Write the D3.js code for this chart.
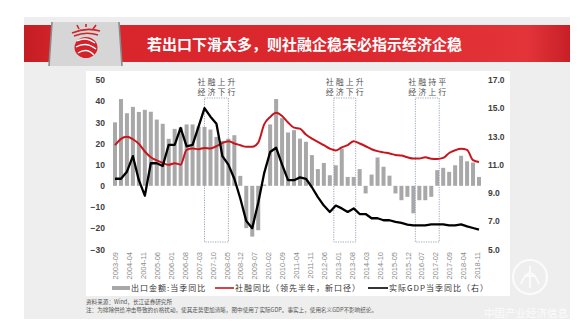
<!DOCTYPE html>
<html><head><meta charset="utf-8">
<script src="https://cdn.jsdelivr.net/npm/d3@7"></script>
<style>
body{margin:0;background:#fff;}
svg{display:block;font-family:"Noto Sans CJK SC","Liberation Sans",sans-serif;}
</style></head><body>
<svg id="c" width="581" height="332"></svg>
<script>
// ---------- DATA ----------
const quarters = [
 "2003Q3","2003Q4",
 "2004Q1","2004Q2","2004Q3","2004Q4","2005Q1","2005Q2","2005Q3","2005Q4",
 "2006Q1","2006Q2","2006Q3","2006Q4","2007Q1","2007Q2","2007Q3","2007Q4",
 "2008Q1","2008Q2","2008Q3","2008Q4","2009Q1","2009Q2","2009Q3","2009Q4",
 "2010Q1","2010Q2","2010Q3","2010Q4","2011Q1","2011Q2","2011Q3","2011Q4",
 "2012Q1","2012Q2","2012Q3","2012Q4","2013Q1","2013Q2","2013Q3","2013Q4",
 "2014Q1","2014Q2","2014Q3","2014Q4","2015Q1","2015Q2","2015Q3","2015Q4",
 "2016Q1","2016Q2","2016Q3","2016Q4","2017Q1","2017Q2","2017Q3","2017Q4",
 "2018Q1","2018Q2","2018Q3","2018Q4"];
// 出口金额:当季同比 (left axis, %)
const exportYoY = [
 30.0, 41.0, 34.3, 37.3, 34.9, 35.9, 35.0, 31.3, 29.3, 22.2,
 26.9, 27.6, 29.0, 29.0, 28.0, 27.8, 26.6, 23.1, 21.2, 22.3,
 23.9, 4.7, -20.0, -24.0, -21.0, 0.6, 29.0, 41.0, 32.0, 25.2,
 26.3, 22.3, 20.8, 14.5, 7.9, 10.8, 5.0, 9.7, 17.6, 4.2,
 4.2, 7.9, -3.6, 5.3, 13.4, 9.0, 4.8, -3.6, -6.8, -5.2,
 -13.0, -6.8, -6.8, -5.2, 7.4, 8.5, 6.6, 9.7, 14.2, 11.6,
 11.0, 4.2];
// 社融同比（领先半年，新口径） (left axis, %)
const tsfYoY = [
 19.2, 22.2, 23.2, 22.0, 19.8, 16.2, 13.5, 12.0, 10.8, 9.9,
 10.7, 10.0, 17.0, 17.6, 17.3, 17.9, 17.6, 18.7, 20.3, 21.1,
 20.0, 19.2, 18.4, 18.4, 20.4, 29.0, 32.5, 34.5, 33.0, 29.9,
 27.5, 27.0, 24.2, 22.3, 20.8, 19.2, 17.6, 16.7, 18.2, 19.2,
 21.1, 20.0, 18.7, 17.3, 16.4, 15.8, 15.3, 14.6, 14.3, 13.5,
 12.9, 12.9, 13.5, 12.8, 12.7, 13.2, 15.5, 16.8, 17.5, 17.0,
 12.1, 11.2];
// 实际GDP当季同比（右） (right axis, %)
const gdpYoY = [
 10.0, 10.0, 10.5, 11.6, 9.9, 8.8, 11.1, 11.1, 10.9, 12.4,
 12.4, 13.6, 12.3, 12.4, 13.7, 15.0, 14.4, 13.9, 11.6, 11.0,
 10.0, 8.6, 7.0, 6.5, 8.3, 10.4, 11.9, 12.2, 11.0, 9.9,
 9.9, 10.1, 10.0, 9.4, 8.7, 8.1, 7.65, 8.1, 7.9, 7.65,
 7.9, 7.5, 7.5, 7.2, 7.2, 7.06, 7.06, 6.94, 6.87, 6.75,
 6.7, 6.7, 6.7, 6.77, 6.77, 6.77, 6.7, 6.7, 6.77, 6.63,
 6.51, 6.4];
const tickLabels = ["2003-09","2004-04","2004-11","2005-06","2006-01","2006-08","2007-03",
 "2007-10","2008-05","2008-12","2009-07","2010-02","2010-09","2011-04","2011-11","2012-06",
 "2013-01","2013-08","2014-03","2014-10","2015-05","2015-12","2016-07","2017-02","2017-09",
 "2018-04","2018-11"];
const leftTicks = [-30,-20,-10,0,10,20,30,40,50];
const rightTicks = [5,7,9,11,13,15,17];
const boxStarts = ["2007-06","2012-11","2016-04"];
const boxEnds = ["2008-06","2013-10","2017-04"];
const boxLine1 = ["社融上升","社融上升","社融持平"];
const boxLine2 = ["经济下行","经济下行","经济上行"];
const title = "若出口下滑太多，则社融企稳未必指示经济企稳";
const legendNames = ["出口金额:当季同比","社融同比（领先半年，新口径）","实际GDP当季同比（右）"];
const source = "资料来源：Wind，长江证券研究所";
const note = "注：为排除供给冲击导致的价格扰动，使其走势更加清晰，图中使用了实际GDP。事实上，使用名义GDP不影响结论。";

// ---------- HELPERS ----------
const monthIndex = s => { const [y,m] = s.split("-").map(Number); return (y-2003)*12 + (m-9); };
const quarterMonth = q => (+q.slice(0,4)-2003)*12 + (+q.slice(5))*3 - 9;

const svg = d3.select("#c");
const defs = svg.append("defs");
const grad = defs.append("linearGradient").attr("id","band").attr("x1","0").attr("x2","1");
[["0","#c41d24"],["0.08","#d8252c"],["0.6","#dc282e"],["0.92","#e3343a"],["1","#c81f26"]]
  .forEach(([o,c]) => grad.append("stop").attr("offset",o).attr("stop-color",c));

// slide background
svg.append("rect").attr("x",24).attr("y",17).attr("width",546).attr("height",302).attr("fill","#eeeeee");
// title band
svg.append("rect").attr("x",24).attr("y",25).attr("width",546).attr("height",37).attr("fill","url(#band)");
// logo box
svg.append("path").attr("d","M52,22 L119,22 L122,66 L49,66 Z").attr("fill","#d6d6d6");
svg.append("path").attr("d","M52,22 L49,66 M119,22 L122,66").attr("stroke","#8a8a8a").attr("stroke-width",1.6);
// logo mark
const lg = svg.append("g");
lg.append("ellipse").attr("cx",86).attr("cy",47.5).attr("rx",11.5).attr("ry",10.5).attr("fill","#d3222a");
lg.append("path").attr("d","M77,41 Q86,36 95,43 M76,47 Q86,41 96,49 M78,53 Q87,47 94,55")
  .attr("stroke","#fff").attr("stroke-width",1.4).attr("fill","none");
lg.append("path").attr("d","M72,33 Q86,27 100,31 M74,36 Q86,31 98,35 M79,29 L77,25 M93,29 L96,25 M86,27 L86,24")
  .attr("stroke","#d3222a").attr("stroke-width",1.6).attr("fill","none");
// title text
svg.append("text").attr("x",147).attr("y",49.5).attr("fill","#fff").attr("font-size",15)
  .attr("font-weight",700).text(title);

// chart panel
svg.append("rect").attr("x",86).attr("y",71).attr("width",424).attr("height",225).attr("fill","#ffffff");

// ---------- SCALES ----------
const x = d3.scaleLinear().domain([0,183]).range([115,479]);
const yL = d3.scaleLinear().domain([-30,50]).range([249.3,80]);
const yR = d3.scaleLinear().domain([5,17]).range([249.3,80]);

// bars
svg.append("g").selectAll("rect").data(quarters).join("rect")
  .attr("x",(q)=>x(quarterMonth(q))-2)
  .attr("width",4)
  .attr("y",(q,i)=>Math.min(yL(exportYoY[i]),yL(0)))
  .attr("height",(q,i)=>Math.abs(yL(exportYoY[i])-yL(0)))
  .attr("fill","#a8a8a8");

// boxes
boxStarts.forEach((s,i)=>{
  const x0 = x(monthIndex(s)), x1 = x(monthIndex(boxEnds[i]));
  svg.append("rect").attr("x",x0).attr("y",98).attr("width",x1-x0).attr("height",144)
    .attr("fill","none").attr("stroke","#8f9db0").attr("stroke-width",0.9).attr("stroke-dasharray","1.2,1.2");
  const cx = (x0+x1)/2;
  svg.append("text").attr("x",cx+1).attr("y",85).attr("text-anchor","middle").attr("font-size",8)
    .attr("letter-spacing",2).attr("fill","#555").text(boxLine1[i]);
  svg.append("text").attr("x",cx+1).attr("y",95).attr("text-anchor","middle").attr("font-size",8)
    .attr("letter-spacing",2).attr("fill","#555").text(boxLine2[i]);
});

// lines
const redLine = d3.line().x((q)=>x(quarterMonth(q))).y((q,i)=>yL(tsfYoY[i])).curve(d3.curveMonotoneX);
svg.append("path").attr("d",redLine(quarters)).attr("fill","none").attr("stroke","#c8141c").attr("stroke-width",2);
const blackLine = d3.line().x((q)=>x(quarterMonth(q))).y((q,i)=>yR(gdpYoY[i]));
svg.append("path").attr("d",blackLine(quarters)).attr("fill","none").attr("stroke","#000")
  .attr("stroke-width",2.3).attr("stroke-linejoin","round");

// axes
const axL = svg.append("g").attr("transform","translate(105,0)")
  .call(d3.axisLeft(yL).tickValues(leftTicks).tickSize(0).tickPadding(0));
const axR = svg.append("g").attr("transform","translate(488,0)")
  .call(d3.axisRight(yR).tickValues(rightTicks).tickSize(0).tickPadding(0).tickFormat(d3.format(".1f")));
[axL,axR].forEach(a=>{
  a.select(".domain").remove();
  a.selectAll("text").attr("font-family","Liberation Sans, Arial, sans-serif").attr("font-size",8.5)
    .attr("font-weight",700).attr("fill","#404040");
});
const axB = svg.append("g").attr("transform","translate(0,250)")
  .call(d3.axisBottom(x).tickValues(tickLabels.map(monthIndex)).tickSize(0)
    .tickFormat((d,i)=>tickLabels[i]));
axB.select(".domain").remove();
axB.selectAll("text").attr("transform","rotate(-90)").attr("text-anchor","end")
  .attr("x",-2).attr("y",0).attr("dy","0.35em")
  .attr("font-family","Liberation Sans, Arial, sans-serif").attr("font-size",7.5).attr("fill","#8a8a8a");

// legend
const lgd = svg.append("g").attr("font-size",8).attr("fill","#333").attr("letter-spacing",1);
lgd.append("rect").attr("x",112).attr("y",286).attr("width",18).attr("height",4).attr("fill","#a8a8a8");
lgd.append("text").attr("x",131).attr("y",291).text(legendNames[0]);
lgd.append("line").attr("x1",215).attr("x2",234).attr("y1",288).attr("y2",288).attr("stroke","#c8141c").attr("stroke-width",1.6);
lgd.append("text").attr("x",235).attr("y",291).text(legendNames[1]);
lgd.append("line").attr("x1",368).attr("x2",388).attr("y1",288).attr("y2",288).attr("stroke","#000").attr("stroke-width",1.6);
lgd.append("text").attr("x",389).attr("y",291).text(legendNames[2]);

// notes
svg.append("text").attr("x",86).attr("y",304).attr("font-size",5.6).attr("fill","#555").text(source);
svg.append("text").attr("x",86).attr("y",311.5).attr("font-size",5.6).attr("fill","#555").text(note);

// watermark
const wm = svg.append("g").attr("opacity",0.8);
wm.append("circle").attr("cx",530).attr("cy",277).attr("r",17).attr("fill","none").attr("stroke","#fff").attr("stroke-width",2.2);
wm.append("path").attr("d","M521,284 Q530,262 539,284 M524,276 L536,276 M530,266 L530,288")
  .attr("fill","none").attr("stroke","#fff").attr("stroke-width",1.8);
wm.append("text").attr("x",484).attr("y",317).attr("font-size",10.5).attr("fill","#fff").text("中国产业经济信息");
</script>
</body></html>
